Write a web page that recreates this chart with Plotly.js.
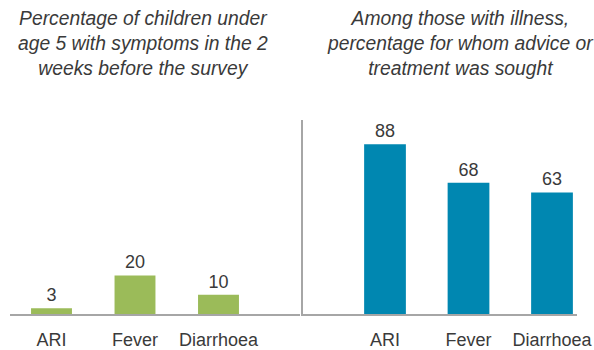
<!DOCTYPE html>
<html><head><meta charset="utf-8">
<script src="https://cdn.plot.ly/plotly-3.0.1.min.js"></script>
<style>html,body{margin:0;padding:0;background:#fff}#chart{width:594px;height:350px}</style>
</head><body><div id="chart"></div>
<script>
const categories = ["ARI", "Fever", "Diarrhoea"];
const symptomValues = [3, 20, 10];
const soughtValues = [88, 68, 63];
const leftTitle = "Percentage of children under<br>age 5 with symptoms in the 2<br>weeks before the survey";
const rightTitle = "Among those with illness,<br>percentage for whom advice or<br>treatment was sought";

const W = 594, H = 350;
const txt = "#3a3a3a";
const font = {family: "Liberation Sans, Arial, sans-serif", size: 18, color: txt};
const titleFont = {family: "Liberation Sans, Arial, sans-serif", size: 19.3, color: txt, style: "italic"};

const traces = [
  {type: "bar", x: categories, y: symptomValues, xaxis: "x", yaxis: "y",
   marker: {color: "#9BBB59"}, width: 0.49,
   text: symptomValues.map(String), textposition: "outside", cliponaxis: false,
   textfont: font, hoverinfo: "none"},
  {type: "bar", x: categories, y: soughtValues, xaxis: "x2", yaxis: "y2",
   marker: {color: "#0087B1"}, width: 0.5,
   text: soughtValues.map(String), textposition: "outside", cliponaxis: false,
   textfont: font, hoverinfo: "none"}
];

const yTop = 120, yBase = 314, pxPerUnit = 1.93;
const yDomain = [(H - yBase) / H, (H - yTop) / H];
const yRange = [0, (yBase - yTop) / pxPerUnit];
const step = 83.5;

const layout = {
  width: W, height: H, margin: {l: 0, r: 0, t: 0, b: 0},
  paper_bgcolor: "#fff", plot_bgcolor: "rgba(0,0,0,0)",
  showlegend: false, font: font,
  xaxis: {domain: [10 / W, 300 / W], range: [(10 - 51.5) / step, (300 - 51.5) / step],
          type: "category", showline: true, linecolor: "#a6a6a6", linewidth: 2,
          showgrid: false, zeroline: false, ticks: "", ticklabelstandoff: 8, tickfont: font, anchor: "y"},
  yaxis: {domain: yDomain, range: yRange, visible: false, showgrid: false, zeroline: false, anchor: "x"},
  xaxis2: {domain: [303 / W, 577 / W], range: [(303 - 385) / step, (577 - 385) / step],
           type: "category", showline: true, linecolor: "#a6a6a6", linewidth: 2,
           showgrid: false, zeroline: false, ticks: "", ticklabelstandoff: 8, tickfont: font, anchor: "y2"},
  yaxis2: {domain: yDomain, range: yRange, showline: true, linecolor: "#a6a6a6", linewidth: 2,
           showticklabels: false, ticks: "", showgrid: false, zeroline: false, anchor: "x2"},
  annotations: [
    {text: leftTitle, xref: "paper", yref: "paper", x: 143 / W, y: (H - 43) / H,
     xanchor: "center", yanchor: "middle", showarrow: false, align: "center", font: titleFont},
    {text: rightTitle, xref: "paper", yref: "paper", x: 460 / W, y: (H - 43) / H,
     xanchor: "center", yanchor: "middle", showarrow: false, align: "center", font: titleFont}
  ]
};

Plotly.newPlot("chart", traces, layout, {staticPlot: true, displayModeBar: false});
</script></body></html>
